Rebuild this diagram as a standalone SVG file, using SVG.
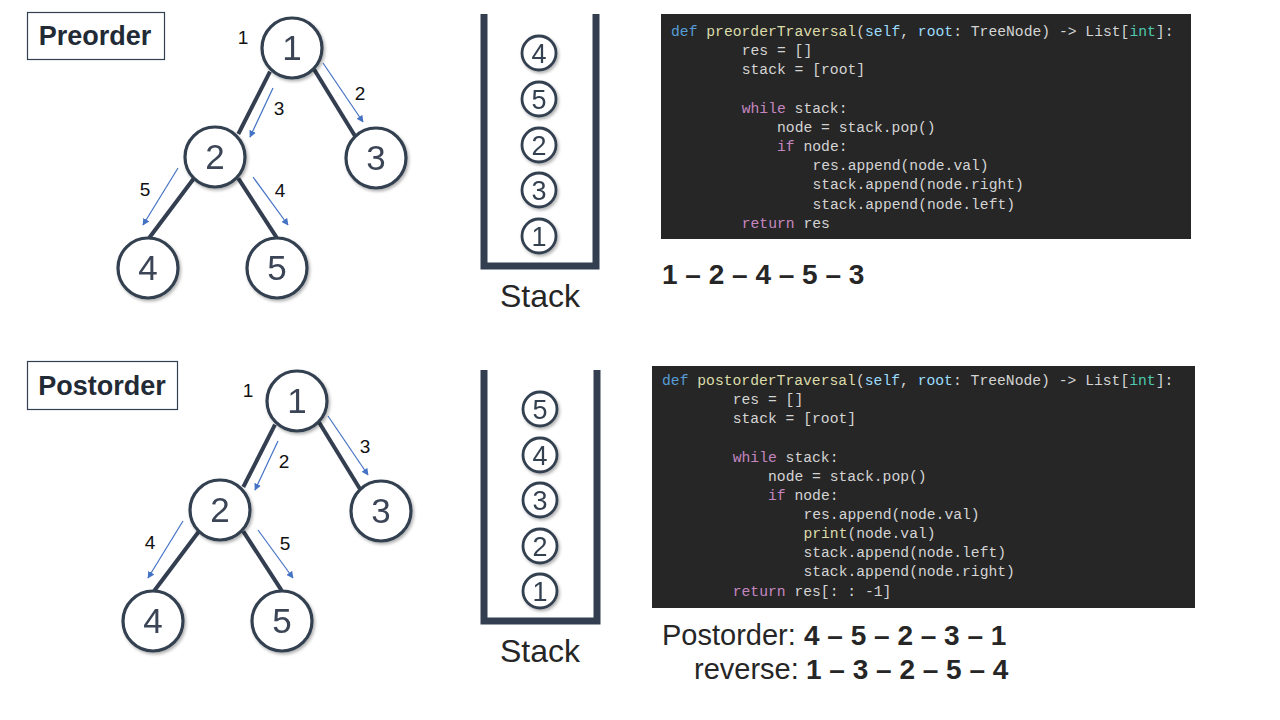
<svg xmlns="http://www.w3.org/2000/svg" width="1280" height="720" viewBox="0 0 1280 720">
<defs>
<style>
.title{font-family:"Liberation Sans",Arial,sans-serif;font-weight:bold;font-size:27px;fill:#222a35;text-anchor:middle}
.tbox{fill:#fff;stroke:#333f50;stroke-width:1.2}
.node circle{fill:#fff;stroke:#333f50;stroke-width:3.2}
.node text{font-family:"Liberation Sans",Arial,sans-serif;font-size:35px;fill:#3b4556;text-anchor:middle}
.edge{stroke:#333f50;stroke-width:4;fill:none}
.arr{stroke:#4472c4;stroke-width:1.2;fill:none;marker-end:url(#ah)}
.lbl{font-family:"Liberation Sans",Arial,sans-serif;font-size:19px;fill:#111;text-anchor:middle}
.wall{stroke:#333f50;stroke-width:7;fill:none;stroke-linejoin:miter}
.item circle{fill:#fff;stroke:#333f50;stroke-width:2.8}
.item text{font-family:"Liberation Sans",Arial,sans-serif;font-size:27px;fill:#333f50;text-anchor:middle}
.stk{font-family:"Liberation Sans",Arial,sans-serif;font-size:32px;fill:#262626;text-anchor:middle}
.code{fill:#262626}
.c{font-family:"Liberation Mono","DejaVu Sans Mono",monospace;font-size:14.7px;fill:#d4d4d4}
.kw{fill:#569cd6}.fn{fill:#dcdcaa}.pa{fill:#9cdcfe}.ty{fill:#4ec9b0}.ct{fill:#c586c0}
.res{font-family:"Liberation Sans",Arial,sans-serif;font-size:28px;font-weight:bold;fill:#262626}
.resr{font-family:"Liberation Sans",Arial,sans-serif;font-size:29px;fill:#262626}
</style>
<marker id="ah" viewBox="0 0 10 10" refX="9" refY="5" markerWidth="7" markerHeight="7" markerUnits="userSpaceOnUse" orient="auto">
<path d="M0,0 L10,5 L0,10 z" fill="#4472c4"/>
</marker>
<filter id="sh" x="-30%" y="-30%" width="160%" height="160%">
<feDropShadow dx="1.5" dy="2" stdDeviation="1.5" flood-color="#000" flood-opacity="0.3"/>
</filter>
</defs>
<rect width="1280" height="720" fill="#fff"/>

<!-- Titles -->
<g id="title-preorder">
<rect class="tbox" x="27.5" y="12.5" width="137" height="47"/>
<text class="title" x="95" y="45">Preorder</text>
</g>
<g id="title-postorder">
<rect class="tbox" x="27.5" y="361.5" width="150" height="48"/>
<text class="title" x="102" y="395">Postorder</text>
</g>

<!-- Top tree connectors -->
<g id="connectors-top">
<line class="edge" x1="270" y1="71.7" x2="238.3" y2="134"/>
<line class="edge" x1="314" y1="69.3" x2="355" y2="136"/>
<line class="edge" x1="194" y1="178.3" x2="149.3" y2="237.7"/>
<line class="edge" x1="238.3" y1="178.3" x2="276.7" y2="237.7"/>
<line class="arr" x1="273" y1="88" x2="250" y2="137"/>
<line class="arr" x1="323" y1="63" x2="363" y2="122"/>
<line class="arr" x1="178" y1="168" x2="143" y2="225"/>
<line class="arr" x1="253" y1="177" x2="288" y2="225"/>
<text class="lbl" x="243" y="44">1</text>
<text class="lbl" x="360" y="100">2</text>
<text class="lbl" x="279" y="115">3</text>
<text class="lbl" x="145" y="196">5</text>
<text class="lbl" x="280" y="197">4</text>
</g>
<g id="pre-n1" class="node" filter="url(#sh)"><circle cx="292" cy="48" r="30"/><text x="292" y="60">1</text></g>
<g id="pre-n2" class="node" filter="url(#sh)"><circle cx="215" cy="157" r="30"/><text x="215" y="169">2</text></g>
<g id="pre-n3" class="node" filter="url(#sh)"><circle cx="376" cy="158" r="30"/><text x="376" y="170">3</text></g>
<g id="pre-n4" class="node" filter="url(#sh)"><circle cx="148" cy="268" r="30"/><text x="148" y="280">4</text></g>
<g id="pre-n5" class="node" filter="url(#sh)"><circle cx="277" cy="268" r="30"/><text x="277" y="280">5</text></g>

<!-- Bottom tree connectors -->
<g id="connectors-bottom" transform="translate(5,353)">
<line class="edge" x1="270" y1="71.7" x2="238.3" y2="134"/>
<line class="edge" x1="314" y1="69.3" x2="355" y2="136"/>
<line class="edge" x1="194" y1="178.3" x2="149.3" y2="237.7"/>
<line class="edge" x1="238.3" y1="178.3" x2="276.7" y2="237.7"/>
<line class="arr" x1="273" y1="88" x2="250" y2="137"/>
<line class="arr" x1="323" y1="63" x2="363" y2="122"/>
<line class="arr" x1="178" y1="168" x2="143" y2="225"/>
<line class="arr" x1="253" y1="177" x2="288" y2="225"/>
<text class="lbl" x="243" y="44">1</text>
<text class="lbl" x="360" y="100">3</text>
<text class="lbl" x="279" y="115">2</text>
<text class="lbl" x="145" y="196">4</text>
<text class="lbl" x="280" y="197">5</text>
</g>
<g id="post-n1" class="node" filter="url(#sh)"><circle cx="297" cy="401" r="30"/><text x="297" y="413">1</text></g>
<g id="post-n2" class="node" filter="url(#sh)"><circle cx="220" cy="510" r="30"/><text x="220" y="522">2</text></g>
<g id="post-n3" class="node" filter="url(#sh)"><circle cx="381" cy="511" r="30"/><text x="381" y="523">3</text></g>
<g id="post-n4" class="node" filter="url(#sh)"><circle cx="153" cy="621" r="30"/><text x="153" y="633">4</text></g>
<g id="post-n5" class="node" filter="url(#sh)"><circle cx="282" cy="621" r="30"/><text x="282" y="633">5</text></g>

<!-- Top stack -->
<g id="stack-top">
<path class="wall" d="M484,14 V266 H596 V14"/>
<g class="item" filter="url(#sh)"><circle cx="539" cy="53" r="17"/><text x="539" y="62.5">4</text></g>
<g class="item" filter="url(#sh)"><circle cx="539" cy="99" r="17"/><text x="539" y="108.5">5</text></g>
<g class="item" filter="url(#sh)"><circle cx="539" cy="145" r="17"/><text x="539" y="154.5">2</text></g>
<g class="item" filter="url(#sh)"><circle cx="539" cy="190" r="17"/><text x="539" y="199.5">3</text></g>
<g class="item" filter="url(#sh)"><circle cx="539" cy="236" r="17"/><text x="539" y="245.5">1</text></g>
<text class="stk" x="540" y="307">Stack</text>
</g>

<!-- Bottom stack -->
<g id="stack-bottom">
<path class="wall" d="M484,370 V621 H597 V370"/>
<g class="item" filter="url(#sh)"><circle cx="540" cy="409" r="17"/><text x="540" y="418.5">5</text></g>
<g class="item" filter="url(#sh)"><circle cx="540" cy="455" r="17"/><text x="540" y="464.5">4</text></g>
<g class="item" filter="url(#sh)"><circle cx="540" cy="500" r="17"/><text x="540" y="509.5">3</text></g>
<g class="item" filter="url(#sh)"><circle cx="540" cy="546" r="17"/><text x="540" y="555.5">2</text></g>
<g class="item" filter="url(#sh)"><circle cx="540" cy="591" r="17"/><text x="540" y="600.5">1</text></g>
<text class="stk" x="540" y="662">Stack</text>
</g>

<!-- Top code -->
<g id="code-preorder">
<rect class="code" x="661" y="14" width="530" height="225"/>
<text class="c" x="671" y="36"><tspan class="kw">def</tspan> <tspan class="fn">preorderTraversal</tspan>(<tspan class="pa">self</tspan>, <tspan class="pa">root</tspan>: TreeNode) -&gt; List[<tspan class="ty">int</tspan>]:</text>
<text class="c" x="741.7" y="55">res = []</text>
<text class="c" x="741.7" y="74">stack = [root]</text>
<text class="c" x="741.7" y="113"><tspan class="ct">while</tspan> stack:</text>
<text class="c" x="777" y="132">node = stack.pop()</text>
<text class="c" x="777" y="151"><tspan class="ct">if</tspan> node:</text>
<text class="c" x="812.4" y="170">res.append(node.val)</text>
<text class="c" x="812.4" y="189">stack.append(node.right)</text>
<text class="c" x="812.4" y="209">stack.append(node.left)</text>
<text class="c" x="741.7" y="228"><tspan class="ct">return</tspan> res</text>
</g>
<g id="result-preorder">
<text class="res" x="662" y="284">1 – 2 – 4 – 5 – 3</text>
</g>

<!-- Bottom code -->
<g id="code-postorder">
<rect class="code" x="652" y="366" width="543" height="242"/>
<text class="c" x="662" y="385"><tspan class="kw">def</tspan> <tspan class="fn">postorderTraversal</tspan>(<tspan class="pa">self</tspan>, <tspan class="pa">root</tspan>: TreeNode) -&gt; List[<tspan class="ty">int</tspan>]:</text>
<text class="c" x="732.7" y="404">res = []</text>
<text class="c" x="732.7" y="423">stack = [root]</text>
<text class="c" x="732.7" y="462"><tspan class="ct">while</tspan> stack:</text>
<text class="c" x="768" y="481">node = stack.pop()</text>
<text class="c" x="768" y="500"><tspan class="ct">if</tspan> node:</text>
<text class="c" x="803.4" y="519">res.append(node.val)</text>
<text class="c" x="803.4" y="538"><tspan class="fn">print</tspan>(node.val)</text>
<text class="c" x="803.4" y="557">stack.append(node.left)</text>
<text class="c" x="803.4" y="576">stack.append(node.right)</text>
<text class="c" x="732.7" y="596"><tspan class="ct">return</tspan> res[: : -1]</text>
</g>
<g id="result-postorder">
<text class="resr" x="662" y="645">Postorder:</text>
<text class="res" x="804" y="645">4 – 5 – 2 – 3 – 1</text>
<text class="resr" x="694" y="679">reverse:</text>
<text class="res" x="806" y="679">1 – 3 – 2 – 5 – 4</text>
</g>
</svg>
